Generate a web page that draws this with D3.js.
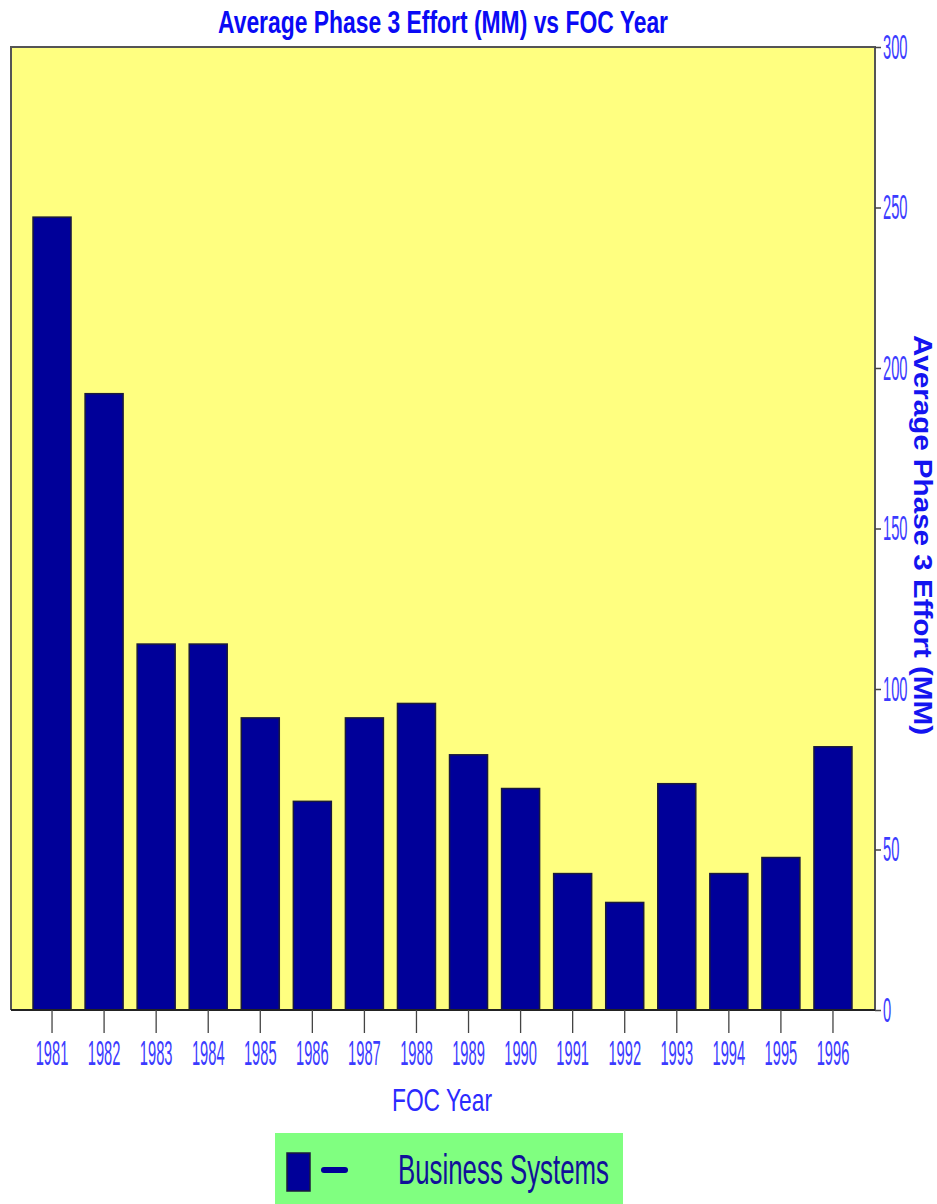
<!DOCTYPE html>
<html>
<head>
<meta charset="utf-8">
<script src="https://cdn.jsdelivr.net/npm/d3@7"></script>
<style>
  html, body { margin: 0; padding: 0; background: #ffffff; }
  svg { display: block; font-family: Arial, "Liberation Sans", sans-serif; }
</style>
</head>
<body>
<svg id="chart" width="937" height="1204"></svg>
<script>
// Average phase 3 effort (man-months) by FOC year, Business Systems
const years = ["1981","1982","1983","1984","1985","1986","1987","1988",
               "1989","1990","1991","1992","1993","1994","1995","1996"];
const effort = [247, 192, 114, 114, 91, 65, 91, 95.5, 79.5, 69, 42.5, 33.5, 70.5, 42.5, 47.5, 82];
const yTicks = [0, 50, 100, 150, 200, 250, 300];
const seriesName = "Business Systems";

const svg = d3.select("#chart");

// plot frame
const frame = { left: 11, right: 875, top: 47, bottom: 1010 };

const x = d3.scaleBand()
  .domain(years)
  .range([26, 859])
  .paddingInner(0.27)
  .paddingOuter(0.135);

const y = d3.scaleLinear()
  .domain([0, 300])
  .range([frame.bottom, frame.top]);

// background
svg.append("rect")
  .attr("x", frame.left).attr("y", frame.top)
  .attr("width", frame.right - frame.left)
  .attr("height", frame.bottom - frame.top)
  .attr("fill", "#ffff80");

// bars
svg.append("g").selectAll("rect")
  .data(years.map((yr, i) => ({ yr, v: effort[i] })))
  .join("rect")
  .attr("x", d => x(d.yr))
  .attr("y", d => y(d.v))
  .attr("width", x.bandwidth())
  .attr("height", d => y(0) - y(d.v))
  .attr("fill", "#000099")
  .attr("stroke", "#1a1a3a")
  .attr("stroke-width", 1.5);

// frame lines
svg.append("path")
  .attr("d", `M${frame.left},${frame.bottom}V${frame.top}H${frame.right}V${frame.bottom}`)
  .attr("fill", "none")
  .attr("stroke", "#555555")
  .attr("stroke-width", 2);
svg.append("line")
  .attr("x1", frame.left).attr("x2", frame.right)
  .attr("y1", frame.bottom).attr("y2", frame.bottom)
  .attr("stroke", "#222222").attr("stroke-width", 2);

const tickColor = "#3b3bff";
const tickSX = 0.42;

// bottom axis
const xAxis = svg.append("g")
  .attr("transform", `translate(0,${frame.bottom})`)
  .call(d3.axisBottom(x).tickSize(23).tickPadding(7).tickSizeOuter(0));
xAxis.select(".domain").remove();
xAxis.selectAll(".tick line").attr("stroke", "#444444").attr("stroke-width", 1.3);
xAxis.selectAll(".tick text")
  .attr("fill", tickColor)
  .style("font-size", "35px")
  .style("font-family", "Arial, 'Liberation Sans', sans-serif")
  .attr("transform", `scale(${tickSX},1)`);

// right axis
const yAxis = svg.append("g")
  .attr("transform", `translate(${frame.right},0)`)
  .call(d3.axisRight(y).tickValues(yTicks).tickSize(6).tickPadding(1).tickSizeOuter(0));
yAxis.select(".domain").remove();
yAxis.selectAll(".tick line").attr("stroke", "#444444").attr("stroke-width", 1.5);
yAxis.selectAll(".tick text")
  .attr("fill", tickColor)
  .style("font-size", "35px")
  .style("font-family", "Arial, 'Liberation Sans', sans-serif")
  .attr("x", 8 / tickSX)
  .attr("transform", `scale(${tickSX},1)`);

// title
svg.append("text")
  .attr("x", 443).attr("y", 33)
  .attr("text-anchor", "middle")
  .attr("fill", "#0a0af5")
  .style("font-size", "32px")
  .style("font-weight", "bold")
  .attr("textLength", 450)
  .attr("lengthAdjust", "spacingAndGlyphs")
  .text("Average Phase 3 Effort (MM) vs FOC Year");

// x axis title
svg.append("text")
  .attr("x", 442).attr("y", 1111)
  .attr("text-anchor", "middle")
  .attr("fill", "#2b2bff")
  .style("font-size", "32px")
  .attr("textLength", 100)
  .attr("lengthAdjust", "spacingAndGlyphs")
  .text("FOC Year");

// y axis title (right side, reading downward)
svg.append("text")
  .attr("transform", "translate(914,535) rotate(90)")
  .attr("text-anchor", "middle")
  .attr("fill", "#1414f0")
  .style("font-size", "25px")
  .style("font-weight", "bold")
  .attr("textLength", 400)
  .attr("lengthAdjust", "spacingAndGlyphs")
  .text("Average Phase 3 Effort (MM)");

// legend
const legend = svg.append("g");
legend.append("rect")
  .attr("x", 275).attr("y", 1133)
  .attr("width", 348).attr("height", 80)
  .attr("fill", "#80ff80");
legend.append("rect")
  .attr("x", 287).attr("y", 1153)
  .attr("width", 23).attr("height", 38)
  .attr("fill", "#000099")
  .attr("stroke", "#1a1a3a").attr("stroke-width", 1.5);
legend.append("line")
  .attr("x1", 324).attr("x2", 345)
  .attr("y1", 1170).attr("y2", 1170)
  .attr("stroke", "#000099")
  .attr("stroke-width", 6)
  .attr("stroke-linecap", "round");
legend.append("text")
  .attr("x", 398).attr("y", 1184)
  .attr("fill", "#111199")
  .style("font-size", "43px")
  .attr("textLength", 211)
  .attr("lengthAdjust", "spacingAndGlyphs")
  .text(seriesName);
</script>
</body>
</html>
